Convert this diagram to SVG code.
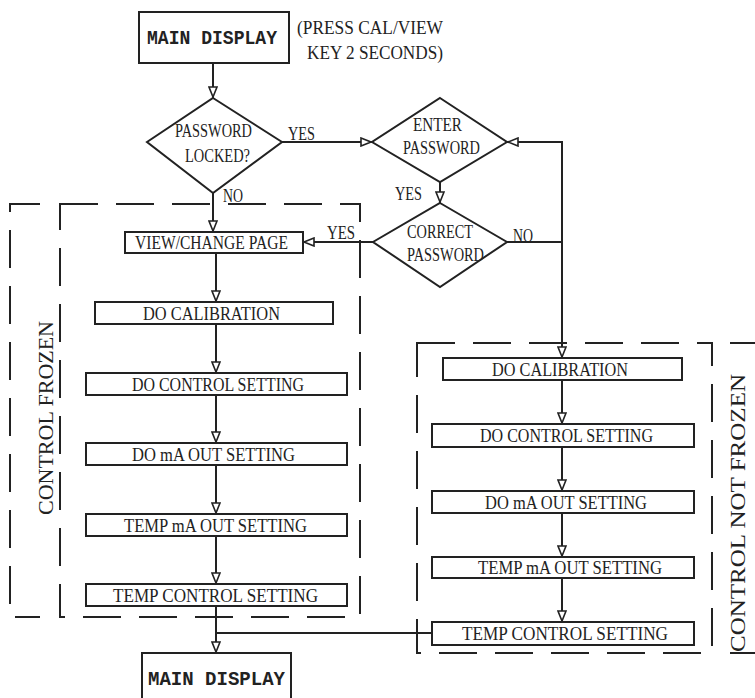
<svg xmlns="http://www.w3.org/2000/svg" width="755" height="698" viewBox="0 0 755 698">
<style>
.box{fill:#fff;stroke:#222;stroke-width:2}
.dia{fill:#fff;stroke:#222;stroke-width:2}
.ln{fill:none;stroke:#222;stroke-width:2}
.dash{fill:none;stroke:#222;stroke-width:2;stroke-dasharray:38 18}
.t{font-family:"Liberation Serif",serif;font-size:19px;fill:#222}
.r{font-family:"Liberation Serif",serif;font-size:22px;fill:#222}
.m{font-family:"Liberation Mono",monospace;font-weight:bold;font-size:20px;fill:#222}
</style>
<defs>
<marker id="ah" viewBox="0 0 12 10" refX="12" refY="5" markerWidth="12" markerHeight="10" markerUnits="userSpaceOnUse" orient="auto">
<path d="M1,1 L11,5 L1,9 Z" fill="#fff" stroke="#222" stroke-width="1.6"/>
</marker>
</defs>
<rect width="755" height="698" fill="#fff"/>

<g id="regions">
<path class="dash" d="M40,204 H10 V617 H40"/>
<rect class="dash" x="60" y="204" width="300" height="413"/>
<rect class="dash" x="417" y="343" width="295" height="310"/>
<path class="dash" d="M730,343 H760 M730,653 H760"/>
<text class="r" transform="translate(53,515) rotate(-90)" textLength="194" lengthAdjust="spacingAndGlyphs">CONTROL FROZEN</text>
<text class="r" transform="translate(745,652) rotate(-90)" textLength="278" lengthAdjust="spacingAndGlyphs">CONTROL NOT FROZEN</text>
</g>

<g id="connectors">
<path class="ln" d="M213,63 V98" marker-end="url(#ah)"/>
<path class="ln" d="M282,142 H372" marker-end="url(#ah)"/>
<path class="ln" d="M507,242 H562 V358" marker-end="url(#ah)"/>
<path class="ln" d="M562,242 V142 H507" marker-end="url(#ah)"/>
<path class="ln" d="M440,182 V203" marker-end="url(#ah)"/>
<path class="ln" d="M373,242 H303" marker-end="url(#ah)"/>
<path class="ln" d="M213,193 V232" marker-end="url(#ah)"/>
<path class="ln" d="M216,253 V302" marker-end="url(#ah)"/>
<path class="ln" d="M216,324 V373" marker-end="url(#ah)"/>
<path class="ln" d="M216,395 V443" marker-end="url(#ah)"/>
<path class="ln" d="M216,465 V514" marker-end="url(#ah)"/>
<path class="ln" d="M216,536 V584" marker-end="url(#ah)"/>
<path class="ln" d="M216,606 V653" marker-end="url(#ah)"/>
<path class="ln" d="M432,633 H216"/>
<path class="ln" d="M562,380 V424" marker-end="url(#ah)"/>
<path class="ln" d="M562,447 V491" marker-end="url(#ah)"/>
<path class="ln" d="M562,513 V557" marker-end="url(#ah)"/>
<path class="ln" d="M562,578 V622" marker-end="url(#ah)"/>
<text class="t" x="288" y="140" textLength="27" lengthAdjust="spacingAndGlyphs">YES</text>
<text class="t" x="223" y="202" textLength="20" lengthAdjust="spacingAndGlyphs">NO</text>
<text class="t" x="395" y="200" textLength="27" lengthAdjust="spacingAndGlyphs">YES</text>
<text class="t" x="327" y="239" textLength="28" lengthAdjust="spacingAndGlyphs">YES</text>
<text class="t" x="513" y="242" textLength="20" lengthAdjust="spacingAndGlyphs">NO</text>
</g>

<g id="main-display-top">
<rect class="box" x="139" y="12" width="150" height="51"/>
<text class="m" x="147" y="44" textLength="130" lengthAdjust="spacingAndGlyphs">MAIN DISPLAY</text>
</g>
<g id="note">
<text class="t" x="297" y="34" textLength="146" lengthAdjust="spacingAndGlyphs">(PRESS CAL/VIEW</text>
<text class="t" x="307" y="59" textLength="136" lengthAdjust="spacingAndGlyphs">KEY 2 SECONDS)</text>
</g>

<g id="password-locked">
<polygon class="dia" points="213,98 282,142 213,193 147,142"/>
<text class="t" x="175" y="137" textLength="77" lengthAdjust="spacingAndGlyphs">PASSWORD</text>
<text class="t" x="185" y="162" textLength="65" lengthAdjust="spacingAndGlyphs">LOCKED?</text>
</g>

<g id="enter-password">
<polygon class="dia" points="440,98 507,142 440,182 372,142"/>
<text class="t" x="413" y="131" textLength="49" lengthAdjust="spacingAndGlyphs">ENTER</text>
<text class="t" x="403" y="154" textLength="77" lengthAdjust="spacingAndGlyphs">PASSWORD</text>
</g>

<g id="correct-password">
<polygon class="dia" points="440,203 507,242 440,287 373,242"/>
<text class="t" x="407" y="238" textLength="66" lengthAdjust="spacingAndGlyphs">CORRECT</text>
<text class="t" x="407" y="261" textLength="77" lengthAdjust="spacingAndGlyphs">PASSWORD</text>
</g>

<g id="view-change-page">
<rect class="box" x="125" y="232" width="178" height="21"/>
<text class="t" x="135" y="249" textLength="153" lengthAdjust="spacingAndGlyphs">VIEW/CHANGE PAGE</text>
</g>
<g id="l-do-calibration">
<rect class="box" x="95" y="302" width="238" height="22"/>
<text class="t" x="143" y="320" textLength="137" lengthAdjust="spacingAndGlyphs">DO CALIBRATION</text>
</g>
<g id="l-do-control">
<rect class="box" x="86" y="373" width="261" height="22"/>
<text class="t" x="132" y="391" textLength="172" lengthAdjust="spacingAndGlyphs">DO CONTROL SETTING</text>
</g>
<g id="l-do-ma">
<rect class="box" x="86" y="443" width="261" height="22"/>
<text class="t" x="132" y="461" textLength="163" lengthAdjust="spacingAndGlyphs">DO mA OUT SETTING</text>
</g>
<g id="l-temp-ma">
<rect class="box" x="86" y="514" width="261" height="22"/>
<text class="t" x="124" y="532" textLength="183" lengthAdjust="spacingAndGlyphs">TEMP mA OUT SETTING</text>
</g>
<g id="l-temp-control">
<rect class="box" x="86" y="584" width="261" height="22"/>
<text class="t" x="113" y="602" textLength="205" lengthAdjust="spacingAndGlyphs">TEMP CONTROL SETTING</text>
</g>

<g id="r-do-calibration">
<rect class="box" x="443" y="358" width="239" height="22"/>
<text class="t" x="492" y="376" textLength="136" lengthAdjust="spacingAndGlyphs">DO CALIBRATION</text>
</g>
<g id="r-do-control">
<rect class="box" x="432" y="424" width="262" height="23"/>
<text class="t" x="480" y="442" textLength="173" lengthAdjust="spacingAndGlyphs">DO CONTROL SETTING</text>
</g>
<g id="r-do-ma">
<rect class="box" x="432" y="491" width="262" height="22"/>
<text class="t" x="485" y="509" textLength="162" lengthAdjust="spacingAndGlyphs">DO mA OUT SETTING</text>
</g>
<g id="r-temp-ma">
<rect class="box" x="432" y="557" width="262" height="21"/>
<text class="t" x="478" y="574" textLength="184" lengthAdjust="spacingAndGlyphs">TEMP mA OUT SETTING</text>
</g>
<g id="r-temp-control">
<rect class="box" x="432" y="622" width="262" height="23"/>
<text class="t" x="462" y="640" textLength="206" lengthAdjust="spacingAndGlyphs">TEMP CONTROL SETTING</text>
</g>

<g id="main-display-bottom">
<rect class="box" x="142" y="653" width="149" height="60"/>
<text class="m" x="148" y="685" textLength="137" lengthAdjust="spacingAndGlyphs">MAIN DISPLAY</text>
</g>
</svg>
